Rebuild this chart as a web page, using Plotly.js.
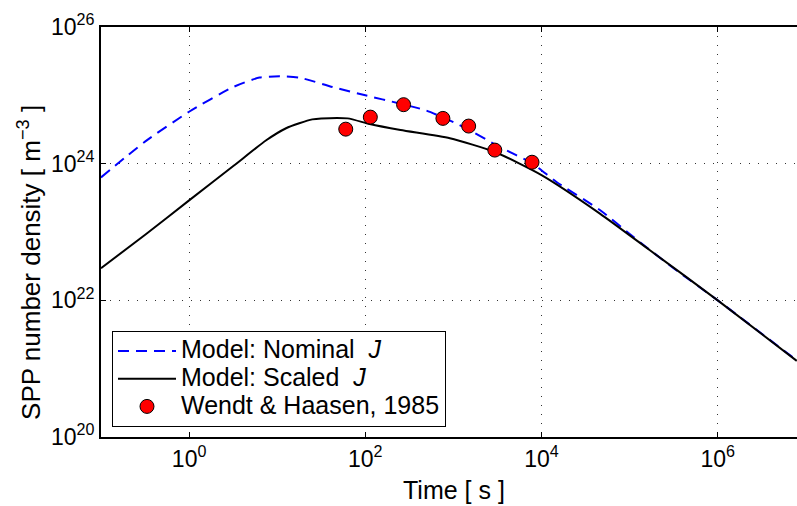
<!DOCTYPE html>
<html>
<head>
<meta charset="utf-8">
<script src="https://cdn.plot.ly/plotly-3.0.1.min.js"></script>
<style>html,body{margin:0;padding:0;background:#fff;overflow:hidden}</style>
</head>
<body>
<div id="chart" style="width:797px;height:506px"></div>
<script>
// Model: Nominal J (blue dashed)
const nominalTime = [0.1, 0.316, 1, 3.16, 6.3, 10.7, 17.8, 42.7, 100, 245, 490, 1290, 3390, 7940, 1.48e4, 4.6e4, 1.1e5, 3.16e5, 1e6, 7.9e6];
const nominalDensity = [6.3e23, 2.1e24, 5.75e24, 1.32e25, 1.82e25, 1.9e25, 1.82e25, 1.32e25, 1.0e25, 7.6e24, 6.0e24, 3.47e24, 1.74e24, 1.0e24, 5.4e23, 2.1e23, 8.5e22, 2.95e22, 1.0e22, 1.32e21];

// Model: Scaled J (black solid)
const scaledTime = [0.1, 0.32, 1, 3.2, 7.5, 12.6, 17.8, 25, 31.6, 63, 112, 251, 912, 2950, 1e4, 4.6e4, 1.7e5, 1e6, 7.9e6];
const scaledDensity = [2.95e22, 9.2e22, 2.9e23, 9.3e23, 2.2e24, 3.3e24, 3.9e24, 4.45e24, 4.6e24, 4.6e24, 3.8e24, 3.1e24, 2.35e24, 1.48e24, 6.8e23, 1.86e23, 5.4e22, 1.0e22, 1.3e21];

// Wendt & Haasen, 1985 (red circles)
const expTime = [60, 114, 272, 760, 1490, 2950, 7800];
const expDensity = [3.2e24, 4.8e24, 7.3e24, 4.6e24, 3.55e24, 1.58e24, 1.05e24];

// Tick labels
const xTickVals = [1, 100, 1e4, 1e6];
const xTickText = ['10<sup>0</sup>', '10<sup>2</sup>', '10<sup>4</sup>', '10<sup>6</sup>'];
const yTickVals = [1e20, 1e22, 1e24, 1e26];
const yTickText = ['10<sup>20</sup>', '10<sup>22</sup>', '10<sup>24</sup>', '10<sup>26</sup>'];

// Legend names and axis titles
const seriesNames = ['Model: Nominal  <i>J</i>', 'Model: Scaled  <i>J</i>', 'Wendt &amp; Haasen, 1985'];
const xTitle = 'Time [ s ]';
const yTitle = 'SPP number density [ m<sup>\u22123</sup> ]';

const FONT = 'Liberation Sans, Arial, Helvetica, sans-serif';
const big = s => '<span style="font-size:25px">' + s + '</span>';

const traces = [
  {
    x: nominalTime, y: nominalDensity, type: 'scatter', mode: 'lines',
    name: big(seriesNames[0]),
    line: {color: '#0000ff', width: 2, dash: '11px,7px', shape: 'spline', smoothing: 0.6}
  },
  {
    x: scaledTime, y: scaledDensity, type: 'scatter', mode: 'lines',
    name: big(seriesNames[1]),
    line: {color: '#000000', width: 2, shape: 'spline', smoothing: 0.6}
  },
  {
    x: expTime, y: expDensity, type: 'scatter', mode: 'markers',
    name: big(seriesNames[2]),
    marker: {color: '#ff0000', size: 14, line: {color: '#000000', width: 1}}
  }
];

const layout = {
  width: 797, height: 506,
  margin: {l: 101, r: 0, t: 27, b: 69, pad: 0},
  paper_bgcolor: '#ffffff', plot_bgcolor: '#ffffff',
  font: {family: FONT, size: 23, color: '#000'},
  showlegend: true,
  xaxis: {
    type: 'log', range: [-1, 6.9],
    tickvals: xTickVals, ticktext: xTickText,
    ticks: 'inside', ticklen: 5, tickwidth: 1, tickcolor: '#000',
    showline: true, linecolor: '#000', linewidth: 2, mirror: 'allticks',
    showgrid: true, gridcolor: '#333', gridwidth: 1, griddash: '1px,8px',
    zeroline: false,
    tickfont: {family: FONT, size: 23}
  },
  yaxis: {
    type: 'log', range: [20, 26],
    tickvals: yTickVals, ticktext: yTickText,
    ticks: 'inside', ticklen: 5, tickwidth: 1, tickcolor: '#000',
    showline: true, linecolor: '#000', linewidth: 2, mirror: false,
    showgrid: true, gridcolor: '#333', gridwidth: 1, griddash: '1px,8px',
    zeroline: false,
    tickfont: {family: FONT, size: 23}
  },
  annotations: [
    {
      text: yTitle, textangle: -90, showarrow: false,
      xref: 'paper', yref: 'paper', x: -0.102, y: 0.466, yshift: -17,
      xanchor: 'center', yanchor: 'middle',
      font: {family: FONT, size: 26, color: '#000'}
    },
    {
      text: xTitle, showarrow: false,
      xref: 'paper', yref: 'paper', x: 0.507, y: -0.139, yshift: 4,
      xanchor: 'center', yanchor: 'middle',
      font: {family: FONT, size: 25, color: '#000'}
    }
  ],
  legend: {
    x: 0.0158, y: 0.024, xanchor: 'left', yanchor: 'bottom',
    bgcolor: '#ffffff', bordercolor: '#000', borderwidth: 1,
    font: {family: FONT, size: 19},
    itemwidth: 58,
    tracegroupgap: 0
  }
};

Plotly.newPlot('chart', traces, layout, {displayModeBar: false, staticPlot: true});
</script>
</body>
</html>
